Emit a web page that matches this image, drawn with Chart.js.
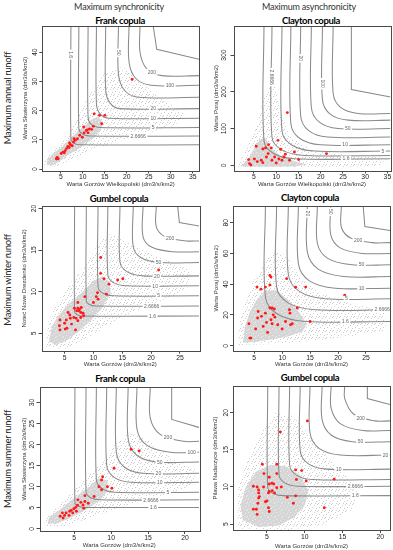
<!DOCTYPE html>
<html lang="pl">
<head>
<meta charset="UTF-8">
<title>Copula return periods</title>
<script src="https://cdn.jsdelivr.net/npm/chart.js"></script>
<style>
  body { margin:0; width:393px; height:550px; position:relative; overflow:hidden; background:#fff; font-family:Lato, "Liberation Sans", sans-serif; }
  .txt { position:absolute; white-space:nowrap; transform:translate(-50%,-50%); line-height:1; }
  .col { font-size:9px; color:#333; letter-spacing:-0.2px; }
  .ttl { font-size:9.5px; font-weight:bold; color:#000; letter-spacing:-0.35px; }
  .row { font-size:9.5px; color:#222; letter-spacing:-0.35px; transform:translate(-50%,-50%) rotate(-90deg); }
  canvas { position:absolute; }
</style>
</head>
<body>
<div class="txt col" style="left:119px;top:5.5px">Maximum synchronicity</div>
<div class="txt col" style="left:309px;top:5.5px">Maximum asynchronicity</div>
<div class="txt ttl" style="left:120px;top:21px">Frank copula</div>
<div class="txt ttl" style="left:311px;top:21px">Clayton copula</div>
<div class="txt ttl" style="left:119px;top:199px">Gumbel copula</div>
<div class="txt ttl" style="left:310px;top:198px">Clayton copula</div>
<div class="txt ttl" style="left:120px;top:379px">Frank copula</div>
<div class="txt ttl" style="left:310px;top:378px">Gumbel copula</div>
<div class="txt row" style="left:8px;top:98px">Maximum annual runoff</div>
<div class="txt row" style="left:8px;top:280px">Maximum winter runoff</div>
<div class="txt row" style="left:8px;top:459px">Maximum summer runoff</div>

<script>
// return period levels of the isolines
const isoLevels = ['1.6', '2.6666', '5', '10', '20', '50', '100', '200'];

// ---- annual, Frank (synchronicity)
const annualSyncXTicks = [5, 10, 15, 20, 25, 30, 35];
const annualSyncYTicks = [0, 10, 20, 30, 40];
const annualSyncObs = [[4.0,3.4],[4.2,4.0],[4.1,3.7],[4.4,3.5],[5.1,5.3],[5.5,5.8],[5.8,5.6],[6.0,6.3],[6.3,7.0],[6.6,7.7],[6.9,7.4],[7.2,8.3],[7.0,8.9],[7.6,8.0],[7.9,9.3],[8.3,9.9],[8.0,10.4],[8.8,10.4],[9.3,11.6],[9.9,10.9],[10.3,12.4],[10.2,14.4],[10.8,13.2],[11.2,12.4],[11.5,13.7],[11.0,13.4],[12.0,13.6],[12.4,14.7],[12.6,18.9],[13.8,18.4],[14.3,15.5],[15.0,18.4],[21.2,30.7]];
const annualSyncCore = [[1.8,1.5],[3,1.2],[4.5,2.4],[6.5,4.6],[8.5,6.4],[10.5,8.4],[12.5,10.6],[14,13],[14.5,16],[13.5,18],[12,17],[10.5,15],[9,13],[7.5,11],[6,8.7],[4.5,6.8],[3,5],[2,3.5],[1.8,1.5]];
const annualSyncHalo = [[1.2,1],[4,0.8],[8,3.5],[12,6.5],[17,9],[24,12],[31,15],[33,19],[28,24],[23,30],[19,35],[15,33],[12,27],[10,21],[8,15],[6,11],[3.5,7],[1.5,4],[1.2,1]];
const annualSyncIso = [
  [[7.3,49],[7.3,10.3],[7.9,8.9],[9.3,8.3],[36.4,8.3]],
  [[9.1,49],[9.1,13.8],[9.85,12.05],[11.6,11.3],[36.4,11.3]],
  [[11.2,49],[11.2,17.7],[11.95,15.25],[13.7,14.2],[36.4,14.2]],
  [[13.1,49],[13.1,22.4],[13.95,18.9],[15.9,17.4],[36.4,17.4]],
  [[15.2,49],[15.2,27.2],[16.15,22.65],[18.4,20.7],[36.4,20.7]],
  [[18.1,49],[18.1,32.6],[19.45,27],[22.6,24.6],[36.4,24.6]],
  [[20.5,49],[20.5,36.7],[22,31.1],[25.5,28.7],[36.4,28.7]],
  [[23,49],[23,40],[24.5,34.4],[28,32],[36.4,32]]
];
const annualSyncEdge = [[26,49],[26.8,41],[36.4,37.6]];

// ---- annual, Clayton (asynchronicity)
const annualAsyncXTicks = [5, 10, 15, 20, 25, 30, 35];
const annualAsyncYTicks = [0, 100, 200, 300];
const annualAsyncObs = [[3.8,15.6],[4.0,4.7],[4.3,1.1],[5.1,17.4],[5.5,51.9],[5.75,10.2],[6.65,13.8],[7.0,44.6],[7.0,7.4],[7.6,47.4],[7.8,22.9],[8.2,32],[8.3,56.3],[8.9,47.4],[9.05,13.8],[9.65,22.9],[10.0,6.5],[10.4,68],[10.6,17.4],[11.0,43.7],[11.3,13.8],[11.75,22.9],[12.05,30.2],[12.5,143.5],[13.0,13.8],[14.1,36.5],[15.05,15.6],[21.3,32]];
const annualAsyncCore = [[2.2,-3],[8,-4],[14,-3],[17,2],[14,12],[11,25],[9,45],[7.5,75],[6.2,70],[5,45],[3.8,20],[2.8,8],[2.2,-3]];
const annualAsyncHalo = [[1.5,-6],[20,-6],[33,-2],[35,20],[26,28],[18,42],[13,80],[11,150],[9.5,230],[7.5,200],[6,130],[4.3,70],[2.8,30],[1.5,5],[1.5,-6]];
const annualAsyncIso = [
  [[7.25,379],[7.25,68],[9.32,33],[14.15,18],[35.7,18]],
  [[9.05,379],[9.05,77],[11.24,42],[16.35,27],[35.7,27]],
  [[11.3,379],[11.3,94],[13.49,55.5],[18.6,39],[35.7,39]],
  [[13.3,379],[13.3,113],[15.31,73.1],[20,56],[35.7,56]],
  [[15.5,379],[15.5,135],[17.3,94.4],[21.5,77],[35.7,77]],
  [[17.9,379],[17.9,158],[19.7,117.4],[23.9,100],[35.7,100]],
  [[20.4,379],[20.4,178],[22.14,139.5],[26.2,123],[35.7,123]],
  [[22.8,379],[22.8,196],[24.48,157.5],[28.4,141],[35.7,141]]
];
const annualAsyncEdge = [[26.9,379],[26.9,206],[35.7,186]];

// ---- winter, Gumbel (synchronicity)
const winterSyncXTicks = [5, 10, 15, 20, 25];
const winterSyncYTicks = [5, 10, 15, 20];
const winterSyncObs = [[11.26,14.1],[11.26,12.2],[11.84,11.55],[15.1,11.55],[14.2,11.4],[12.7,10.9],[21.3,12.6],[12.25,9.7],[10.7,9.87],[10.5,9.4],[10.8,9.1],[10.0,8.7],[8.5,9.4],[7.3,8.7],[7.3,8.0],[7.6,7.9],[7.9,8.1],[7.5,7.7],[7.8,7.5],[6.7,8.0],[7.1,7.7],[8.2,7.4],[8.3,7.1],[7.8,6.9],[5.6,7.5],[5.9,7.2],[6.0,6.8],[6.6,6.9],[7.0,6.8],[6.9,5.4],[7.3,6.5],[5.3,6.6],[5.0,6.2],[6.2,6.1],[5.4,5.6],[5.1,5.5],[4.2,6.6],[4.1,5.9],[4.2,5.4]];
const winterSyncCore = [[2.3,4.0],[3.5,3.6],[5.5,4.2],[7.5,5.2],[9.5,6.5],[11.5,8],[13,9.8],[12.8,11.2],[11.5,11.8],[10,11.3],[8.5,10.2],[7,9.3],[5.5,8.4],[4,7.2],[2.8,5.8],[2.3,4.0]];
const winterSyncHalo = [[1.8,3.3],[5,3.1],[9,4.5],[14,6.5],[20,8.5],[26,10],[27,12.5],[22,14],[17,15.5],[13,17],[11,16],[9,13.5],[6.5,11.5],[4,9],[2.2,6.5],[1.8,3.3]];
const winterSyncIso = [
  [[6.74,20.3],[6.74,7.59],[7.18,7.23],[8.19,7.07],[28.3,7.07]],
  [[8.77,20.3],[8.77,8.87],[9.28,8.45],[10.47,8.27],[28.3,8.27]],
  [[10.8,20.3],[10.8,10.6],[11.58,9.83],[13.4,9.5],[28.3,9.5]],
  [[12.5,20.3],[12.5,12],[13.46,11.09],[15.7,10.7],[28.3,10.7]],
  [[14.6,20.3],[14.6,13.6],[15.8,12.41],[18.6,11.9],[28.3,11.9]],
  [[16.9,20.3],[16.9,15.4],[18.28,14.07],[21.5,13.5],[28.3,13.5]],
  [[18.6,20.3],[18.6,16.6],[20.16,15.34],[23.8,14.8],[28.3,14.8]],
  [[20.9,20.3],[20.9,17.8],[22.46,16.61],[26.1,16.1],[28.3,16.1]]
];
const winterSyncEdge = [[24.6,20.3],[24.9,18.3],[28.3,17.9]];

// ---- winter, Clayton (asynchronicity)
const winterAsyncXTicks = [5, 10, 15, 20, 25];
const winterAsyncYTicks = [0, 20, 40, 60, 80];
const winterAsyncObs = [[5.5,38.1],[6.2,36.8],[7.8,45.7],[8.0,44.6],[7.8,39.5],[7.0,38.1],[10.8,43.6],[12.4,38.0],[14.2,38.1],[21.2,32.8],[5.7,22.3],[5.6,18.0],[6.3,19.1],[6.6,12.6],[7.0,21.2],[7.2,15.2],[7.4,8.7],[7.8,24.5],[8.0,16.9],[8.2,24.5],[8.4,20.1],[8.6,23.9],[8.2,14.3],[9.2,13.7],[8.7,18.6],[10.0,10.9],[10.6,15.8],[11.3,23.4],[11.4,21.2],[11.5,13.7],[11.8,14.3],[12.7,24.5],[15.0,15.8],[4.05,14.3],[4.2,5.0],[4.4,5.0],[5.25,10.9]];
const winterAsyncCore = [[3,2],[5,2.5],[8,4],[11,6],[13.5,9],[14.5,14],[13,22],[11,30],[9,36],[7,36],[5.5,30],[4.2,22],[3.3,12],[3,2]];
const winterAsyncHalo = [[2.2,0.5],[8,1],[15,3],[22,6],[28.5,10],[28.5,22],[22,28],[17,34],[13,45],[11,58],[8.5,62],[6.5,52],[4.5,40],[3,25],[2.2,10],[2.2,0.5]];
const winterAsyncIso = [
  [[7,90.8],[7,31.8],[9.13,20.6],[14.1,15.8],[29.3,15.8]],
  [[9,90.8],[9,38.4],[11.07,27.9],[15.9,23.4],[29.3,23.4]],
  [[11.1,90.8],[11.1,46.5],[13.08,35.3],[17.7,30.5],[29.3,30.5]],
  [[12.9,90.8],[12.9,53.4],[14.88,42.2],[19.5,37.4],[29.3,37.4]],
  [[14.5,90.8],[14.5,61],[16.45,49.8],[21,45],[29.3,45]],
  [[16.3,90.8],[16.3,66.6],[18.16,56.8],[22.5,52.6],[29.3,52.6]],
  [[18.7,90.8],[18.7,72],[20.38,63.6],[24.3,60],[29.3,60]],
  [[20.6,90.8],[20.6,77],[22.25,70],[26.1,67],[29.3,67]]
];
const winterAsyncEdge = [[24.5,90.8],[24.8,77.5],[29.3,74.9]];

// ---- summer, Frank (synchronicity)
const summerSyncXTicks = [5, 10, 15, 20];
const summerSyncYTicks = [0, 5, 10, 15, 20, 25, 30];
const summerSyncObs = [[12.7,18.9],[13.8,18.5],[10.4,14.4],[8.85,12.4],[8.7,11.6],[8.35,10.0],[9.5,10.0],[10.1,9.65],[8.7,9.3],[7.7,7.7],[6.45,7.9],[6.45,6.5],[6.2,5.7],[6.3,4.9],[6.9,6.1],[5.9,6.3],[5.5,6.9],[5.45,5.6],[5.2,5.1],[4.95,4.8],[4.6,4.4],[4.4,4.2],[3.9,3.8],[3.7,3.2],[3.4,3.8],[3.1,3.0],[3.5,2.6],[4.3,3.2],[4.8,3.8],[5.3,4.2]];
const summerSyncCore = [[1.4,1.3],[2.5,1.2],[4,2.2],[5.5,3.5],[7,5],[8.5,6.8],[9.5,9],[9.5,11.5],[8.3,12],[7,10],[5.5,8],[4,6],[2.8,4.2],[1.6,2.8],[1.4,1.3]];
const summerSyncHalo = [[1,0.7],[4,0.6],[7,2.5],[11,5],[16,7.5],[21,10],[21.5,14],[18,17],[15,21],[12.5,23],[10.5,20],[9,16],[7,13],[4.5,8.5],[2.5,5],[1,2.5],[1,0.7]];
const summerSyncIso = [
  [[5.1,33.7],[5.1,6.1],[5.58,5.4],[6.7,5.1],[21.9,5.1]],
  [[6.6,33.7],[6.6,8.8],[7.17,7.47],[8.5,6.9],[21.9,6.9]],
  [[8,33.7],[8,11.7],[8.75,9.6],[10.5,8.7],[21.9,8.7]],
  [[9.4,33.7],[9.4,15.1],[10.36,12.3],[12.6,11.1],[21.9,11.1]],
  [[10.7,33.7],[10.7,18.2],[11.78,14.7],[14.3,13.2],[21.9,13.2]],
  [[12.3,33.7],[12.3,21.4],[13.44,17.55],[16.1,15.9],[21.9,15.9]],
  [[13.5,33.7],[13.5,23.7],[14.85,19.85],[18,18.2],[21.9,18.2]],
  [[15.3,33.7],[15.3,26.3],[16.65,22.45],[19.8,20.8],[21.9,20.8]]
];
const summerSyncEdge = [[18.2,33.7],[18.2,26],[21.9,24.1]];

// ---- summer, Gumbel (asynchronicity)
const summerAsyncXTicks = [5, 10, 15, 20];
const summerAsyncYTicks = [5, 10, 15, 20];
const summerAsyncObs = [[10.35,18.9],[6.77,17.4],[4.38,13.05],[6.3,13.05],[4.6,11.8],[8.8,12.3],[9.6,12.2],[8.9,11.0],[10.2,10.8],[13.9,11.05],[6.3,11.8],[5.3,11.3],[5.66,10.5],[5.9,10.4],[5.3,10.4],[4.55,10.0],[3.2,10.1],[3.7,10.0],[6.9,10.0],[6.3,9.9],[5.7,9.5],[5.3,9.4],[6.0,9.2],[5.2,9.2],[3.9,9.6],[3.9,9.2],[4.0,8.7],[3.9,8.5],[7.7,8.6],[8.8,8.8],[8.5,7.8],[4.8,8.0],[5.0,8.1],[3.8,7.8],[3.2,7.0],[3.6,7.0],[5.2,7.2],[5.3,6.7],[3.7,6.3],[12.6,7.2]];
const summerAsyncCore = [[1.8,5.5],[4,4.6],[6.5,4.8],[8.5,5.8],[10,7.5],[10.5,9.5],[9.5,11.5],[7.5,12.8],[5.5,13],[3.5,12],[2.2,10],[1.5,7.5],[1.8,5.5]];
const summerAsyncHalo = [[1.2,4.4],[8,4.2],[13,5],[16.5,7],[17,10],[14,13],[11.5,16],[8.5,19.5],[6,20],[4,17],[2.5,14],[1.2,10],[1.1,6],[1.2,4.4]];
const summerAsyncIso = [
  [[5.1,23.6],[5.1,10.03],[5.7,9.19],[7.1,8.83],[21.3,8.83]],
  [[6.6,23.6],[6.6,11.6],[7.35,10.55],[9.1,10.1],[21.3,10.1]],
  [[8,23.6],[8,13],[8.9,11.6],[11,11],[21.3,11]],
  [[9.4,23.6],[9.4,14.9],[10.45,13.15],[12.9,12.4],[21.3,12.4]],
  [[10.7,23.6],[10.7,17.3],[11.9,15.2],[14.7,14.3],[21.3,14.3]],
  [[12.3,23.6],[12.3,19.1],[13.5,17],[16.3,16.1],[21.3,16.1]],
  [[13.5,23.6],[13.5,20.6],[14.76,18.5],[17.7,17.6],[21.3,17.6]],
  [[15.3,23.6],[15.3,21.9],[16.5,19.8],[19.3,18.9],[21.3,18.9]]
];
const summerAsyncEdge = [[18.3,23.6],[18.3,21.9],[21.3,21.1]];

const gorzowWlkp = 'Warta Gorzów Wielkopolski (dm3/s/km2)';
const gorzow = 'Warta Gorzów (dm3/s/km2)';

const panels = [
  { box:[42.3,26,199,170.5], yTitleX:26, xTitleY:184, x:[0.8,36.4], y:[-0.5,49],
    xTicks:annualSyncXTicks, yTicks:annualSyncYTicks, obs:annualSyncObs, core:annualSyncCore, halo:annualSyncHalo, iso:annualSyncIso, edge:annualSyncEdge,
    xTitle:gorzowWlkp, yTitle:'Warta Skwierzyna (dm3/s/km2)',
    labels:[['1.6',7.3,39.2,90],['50',18.1,39.8,90],['200',25.7,33.3,0],['100',29.8,28.7,0],['20',26,20.7,0],['10',26,17.4,0],['5',26,14.2,0],['2.6666',22.6,11.3,0]] },
  { box:[233.5,26,390.5,170.5], yTitleX:217.7, xTitleY:184, x:[0.4,35.7], y:[-14,379],
    xTicks:annualAsyncXTicks, yTicks:annualAsyncYTicks, obs:annualAsyncObs, core:annualAsyncCore, halo:annualAsyncHalo, iso:annualAsyncIso, edge:annualAsyncEdge,
    xTitle:gorzowWlkp, yTitle:'Warta Poraj (dm3/s/km2)',
    labels:[['2.6666',9.05,240,90],['20',15.5,291,90],['100',20.4,222,90],['50',26.1,100,0],['10',25.5,56,0],['5',34,39,0],['1.6',25.7,18,0]] },
  { box:[41.5,206,199,350.7], yTitleX:25, xTitleY:364, x:[1,28.3], y:[2.9,20.3],
    xTicks:winterSyncXTicks, yTicks:winterSyncYTicks, obs:winterSyncObs, core:winterSyncCore, halo:winterSyncHalo, iso:winterSyncIso, edge:winterSyncEdge,
    xTitle:gorzow, yTitle:'Noteć Nowe Drezdenko (dm3/s/km2)',
    labels:[['1.6',20.25,7.07,0],['2.6666',20.1,8.27,0],['5',21.3,9.5,0],['10',20.7,10.7,0],['20',21,11.9,0],['50',21.3,13.55,0],['200',23.3,16.45,0]] },
  { box:[233,206,390,350.7], yTitleX:217.7, xTitleY:364, x:[1.2,29.3], y:[-3.2,90.8],
    xTicks:winterAsyncXTicks, yTicks:winterAsyncYTicks, obs:winterAsyncObs, core:winterAsyncCore, halo:winterAsyncHalo, iso:winterAsyncIso, edge:winterAsyncEdge,
    xTitle:gorzow, yTitle:'Warta Poraj (dm3/s/km2)',
    labels:[['1.6',21.3,15.8,0],['2.6666',27.9,23.4,0],['5',21.5,30.5,0],['10',24.2,37.4,0],['50',24.2,52.6,0],['200',23.6,68.5,0],['20',14.5,86,90],['50',18.7,87,90]] },
  { box:[39.5,387,199,531], yTitleX:25, xTitleY:544.3, x:[0.3,21.9], y:[-0.5,33.7],
    xTicks:summerSyncXTicks, yTicks:summerSyncYTicks, obs:summerSyncObs, core:summerSyncCore, halo:summerSyncHalo, iso:summerSyncIso, edge:summerSyncEdge,
    xTitle:gorzow, yTitle:'Warta Skwierzyna (dm3/s/km2)',
    labels:[['1.6',15.7,5.1,0],['2.6666',15.4,6.9,0],['5',17.7,8.7,0],['10',16.6,11.1,0],['20',16.4,13.2,0],['50',16.6,15.9,0],['100',20.9,18.2,0],['200',17.7,21.8,0]] },
  { box:[233,386,390,530], yTitleX:216, xTitleY:545.7, x:[0.5,21.3], y:[4.2,23.6],
    xTicks:summerAsyncXTicks, yTicks:summerAsyncYTicks, obs:summerAsyncObs, core:summerAsyncCore, halo:summerAsyncHalo, iso:summerAsyncIso, edge:summerAsyncEdge,
    xTitle:gorzow, yTitle:'Pilawa Nadarzyce (dm3/s/km2)',
    labels:[['1.6',16.7,8.83,0],['2.6666',16.7,10.1,0],['10',14.5,12.4,0],['20',20.7,14.3,0],['50',17.4,16.1,0],['200',17.4,19.3,0]] }
];

const toXY = arr => arr.map(([x, y]) => ({ x, y }));

function speckle(ctx, bg, dot, cells) {
  const c = document.createElement('canvas');
  c.width = 7; c.height = 7;
  const g = c.getContext('2d');
  if (bg) { g.fillStyle = bg; g.fillRect(0, 0, 7, 7); }
  g.fillStyle = dot;
  cells.forEach(([i, j]) => g.fillRect(i, j, 1, 1));
  return ctx.createPattern(c, 'repeat');
}

// box around plot area
const frame = {
  id: 'frame',
  afterDraw(chart) {
    const { ctx, chartArea: a } = chart;
    ctx.save();
    ctx.strokeStyle = '#4a4a4a';
    ctx.lineWidth = 1;
    ctx.strokeRect(Math.round(a.left) + 0.5, Math.round(a.top) + 0.5, Math.round(a.right - a.left), Math.round(a.bottom - a.top));
    ctx.restore();
  }
};

// isoline labels (white box behind text, like R contour)
const isoText = {
  id: 'isoText',
  afterDatasetsDraw(chart, args, opts) {
    const { ctx, scales } = chart;
    ctx.save();
    ctx.font = '5px "Liberation Sans", Arial, sans-serif';
    ctx.textAlign = 'center';
    ctx.textBaseline = 'middle';
    opts.items.forEach(([t, x, y, rot]) => {
      const px = scales.x.getPixelForValue(x), py = scales.y.getPixelForValue(y);
      const w = ctx.measureText(t).width + 3;
      ctx.save();
      ctx.translate(px, py);
      ctx.rotate(rot * Math.PI / 180);
      ctx.fillStyle = '#fff';
      ctx.fillRect(-w / 2, -3, w, 6);
      ctx.fillStyle = '#666';
      ctx.fillText(t, 0, 0.3);
      ctx.restore();
    });
    ctx.restore();
  }
};

function build(p) {
  const L = Math.floor(p.yTitleX - 4), T = Math.floor(p.box[1] - 8);
  const R = Math.ceil(p.box[2] + 4), B = Math.ceil(p.xTitleY + 4);
  const cv = document.createElement('canvas');
  cv.width = R - L; cv.height = B - T;
  cv.style.left = L + 'px'; cv.style.top = T + 'px';
  document.body.appendChild(cv);
  const ctx = cv.getContext('2d');
  const yW = p.box[0] - L, xH = B - p.box[3];

  const halo = speckle(ctx, null, '#cdcdcd', [[0,0],[4,1],[2,3],[6,4],[1,6],[5,6]]);
  const core = speckle(ctx, '#d6d6d6', '#ececec', [[1,1],[5,2],[3,4],[0,5],[6,6]]);

  const datasets = [
    { data: toXY(p.obs), backgroundColor: '#ff1a1a', pointRadius: 1.45, pointBorderWidth: 0, order: 0 },
    ...p.iso.map((c, i) => ({ label: isoLevels[i], data: toXY(c), showLine: true, tension: 0.35, borderColor: '#8a8a8a', borderWidth: 1.05, pointRadius: 0, order: 1 })),
    { data: toXY(p.edge), showLine: true, tension: 0, borderColor: '#8a8a8a', borderWidth: 1.05, pointRadius: 0, order: 1 },
    { data: toXY(p.core), showLine: true, fill: 'shape', backgroundColor: core, borderColor: 'rgba(0,0,0,0)', borderWidth: 0, pointRadius: 0, order: 2 },
    { data: toXY(p.halo), showLine: true, fill: 'shape', backgroundColor: halo, borderColor: 'rgba(0,0,0,0)', borderWidth: 0, pointRadius: 0, order: 3 }
  ];

  const tickFont = { size: 6.8, family: '"Liberation Sans", Arial, sans-serif' };
  const titleFont = { size: 6, family: '"Liberation Sans", Arial, sans-serif' };

  new Chart(ctx, {
    type: 'scatter',
    data: { datasets },
    options: {
      responsive: false,
      animation: false,
      devicePixelRatio: 1,
      events: [],
      layout: { padding: { top: p.box[1] - T, right: R - p.box[2], left: 0, bottom: 0 } },
      plugins: { legend: { display: false }, tooltip: { enabled: false }, isoText: { items: p.labels } },
      scales: {
        x: {
          type: 'linear', min: p.x[0], max: p.x[1], bounds: 'data',
          afterBuildTicks: s => { s.ticks = p.xTicks.map(v => ({ value: v })); },
          afterFit: s => { s.height = xH; },
          grid: { drawOnChartArea: false, drawTicks: true, tickLength: 3, color: '#4a4a4a' },
          border: { display: false },
          ticks: { font: tickFont, color: '#222', padding: 0, maxRotation: 0, autoSkip: false },
          title: { display: true, text: p.xTitle, font: titleFont, color: '#333', padding: 0 }
        },
        y: {
          type: 'linear', min: p.y[0], max: p.y[1], bounds: 'data',
          afterBuildTicks: s => { s.ticks = p.yTicks.map(v => ({ value: v })); },
          afterFit: s => { s.width = yW; },
          grid: { drawOnChartArea: false, drawTicks: true, tickLength: 3, color: '#4a4a4a' },
          border: { display: false },
          ticks: { font: tickFont, color: '#222', padding: 0.5, minRotation: 90, maxRotation: 90, crossAlign: 'center', autoSkip: false },
          title: { display: true, text: p.yTitle, font: titleFont, color: '#333', padding: 0 }
        }
      }
    },
    plugins: [frame, isoText]
  });
}

panels.forEach(build);
</script>
</body>
</html>
